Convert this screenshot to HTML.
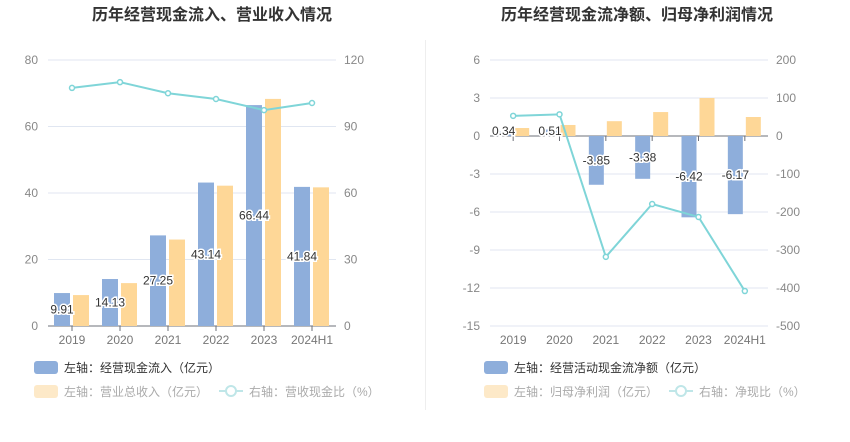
<!DOCTYPE html>
<html><head><meta charset="utf-8"><style>
html,body{margin:0;padding:0;background:#fff;}
svg text{font-family:"Liberation Sans","Noto Sans CJK SC",sans-serif;}
</style></head><body>
<svg id="s" width="850" height="437" xmlns="http://www.w3.org/2000/svg">
<text x="212" y="20" text-anchor="middle" font-size="16" font-weight="bold" fill="#333">历年经营现金流入、营业收入情况</text>
<text x="637" y="20" text-anchor="middle" font-size="16" font-weight="bold" fill="#333">历年经营现金流净额、归母净利润情况</text>
<line x1="425.5" y1="40" x2="425.5" y2="410" stroke="#eee"/>
<g id="L"></g><g id="R"></g>
<g>
<rect x="34" y="361" width="24" height="13" rx="3" fill="#8eaedb"/>
<text x="64" y="372" font-size="12" fill="#333">左轴：经营现金流入（亿元）</text>
<rect x="34" y="385" width="24" height="13" rx="3" fill="#fde9c8"/>
<text x="64" y="396" font-size="12" fill="#aaa">左轴：营业总收入（亿元）</text>
<line x1="219" y1="391" x2="243" y2="391" stroke="#bfe6e8" stroke-width="2"/><circle cx="231" cy="391" r="5" fill="#fff" stroke="#bfe6e8" stroke-width="2"/>
<text x="249" y="396" font-size="12" fill="#aaa">右轴：营收现金比（%）</text>
</g>
<g>
<rect x="484" y="361" width="24" height="13" rx="3" fill="#8eaedb"/>
<text x="514" y="372" font-size="12" fill="#333">左轴：经营活动现金流净额（亿元）</text>
<rect x="484" y="385" width="24" height="13" rx="3" fill="#fde9c8"/>
<text x="514" y="396" font-size="12" fill="#aaa">左轴：归母净利润（亿元）</text>
<line x1="669" y1="391" x2="693" y2="391" stroke="#bfe6e8" stroke-width="2"/><circle cx="681" cy="391" r="5" fill="#fff" stroke="#bfe6e8" stroke-width="2"/>
<text x="699" y="396" font-size="12" fill="#aaa">右轴：净现比（%）</text>
</g>
</svg>
<script>
const categories=["2019","2020","2021","2022","2023","2024H1"];
const cashIn=[9.91,14.13,27.25,43.14,66.44,41.84];
const revenue=[9.3,12.9,26.0,42.2,68.3,41.7];
const cashRatio=[107.4,110,105,102.4,97.4,100.6];
const leftTicksL=[0,20,40,60,80];
const leftTicksR=[0,30,60,90,120];
const netCash=[0.34,0.51,-3.85,-3.38,-6.42,-6.17];
const netProfit=[0.63,0.87,1.17,1.89,3.0,1.5];
const netRatio=[53,57,-318,-179,-213,-408];
const rightTicksL=[-15,-12,-9,-6,-3,0,3,6];
const rightTicksR=[-500,-400,-300,-200,-100,0,100,200];
const NS="http://www.w3.org/2000/svg";
function mk(p,t,a,txt){const e=document.createElementNS(NS,t);for(const k in a)e.setAttribute(k,a[k]);if(txt!==undefined)e.textContent=txt;p.appendChild(e);return e;}
function draw(g,o){
  const {x0,x1,yT,yB,lmin,lmax,rmin,rmax,tl,tr,a,b,c,bw,lblFix}=o;
  const yl=v=>yB-(v-lmin)/(lmax-lmin)*(yB-yT);
  const yr=v=>yB-(v-rmin)/(rmax-rmin)*(yB-yT);
  const step=(x1-x0)/categories.length;
  const cx=i=>x0+step*(i+0.5);
  tl.forEach((t,i)=>{const y=yl(t);
    const gl=mk(g,"line",{x1:x0,x2:x1,y1:y,y2:y,stroke:"#e0e6f1"});
    
    const tx=mk(g,"text",{x:x0-10,y:y+4,"text-anchor":"end","font-size":12,fill:"#888"},t);
    
    const tx2=mk(g,"text",{x:x1+8,y:y+4,"font-size":12,fill:"#888"},tr[i]);
    
  });
  const y0=yl(0);
  const ax=mk(g,"line",{x1:x0,x2:x1,y1:y0,y2:y0,stroke:"#6e7079"});
  
  categories.forEach((cat,i)=>{
    mk(g,"line",{x1:cx(i),x2:cx(i),y1:y0,y2:y0+5,stroke:"#6e7079"});
    const t=mk(g,"text",{x:cx(i),y:yB+18,"text-anchor":"middle","font-size":12,fill:"#777"},cat);
    
    let v=a[i];let r=mk(g,"rect",{x:cx(i)-bw-2,y:Math.min(yl(v),y0),width:bw,height:Math.abs(yl(v)-y0),fill:"#8eaedb"});
    
    let w=b[i];let r2=mk(g,"rect",{x:cx(i)+1,y:Math.min(yr(w),yr(0)),width:bw,height:Math.abs(yr(w)-yr(0)),fill:"#fed797"});
    
  });
  let pts=c.map((v,i)=>cx(i)+","+yr(v)).join(" ");
  const pl=mk(g,"polyline",{points:pts,fill:"none",stroke:"#7fd5d8","stroke-width":2});
  
  c.forEach((v,i)=>{const p=mk(g,"circle",{cx:cx(i),cy:yr(v),r:2.5,fill:"#fff",stroke:"#7fd5d8","stroke-width":1.5});
    });
  a.forEach((v,i)=>{const ly=lblFix(v,yl,y0);
    const t=mk(g,"text",{x:cx(i)-bw/2-2,y:ly,"text-anchor":"middle","font-size":12,fill:"#333",stroke:"#fff","stroke-width":3,"paint-order":"stroke"},v.toFixed(2));
    });
}
draw(document.getElementById("L"),{x0:48,x1:336,yT:60,yB:326,lmin:0,lmax:80,rmin:0,rmax:120,tl:leftTicksL,tr:leftTicksR,a:cashIn,b:revenue.map(v=>v*1.5),c:cashRatio,bw:16,
  lblFix:(v,yl,y0)=>(yl(v)+y0)/2+4});
draw(document.getElementById("R"),{x0:490,x1:768,yT:60,yB:326,lmin:-15,lmax:6,rmin:-500,rmax:200,tl:rightTicksL,tr:rightTicksR,a:netCash,b:netProfit.map(v=>v*100/3),c:netRatio,bw:15,
  lblFix:(v,yl,y0)=>v>=0?y0-1:(yl(v)+y0)/2+4});
</script>
</body></html>
